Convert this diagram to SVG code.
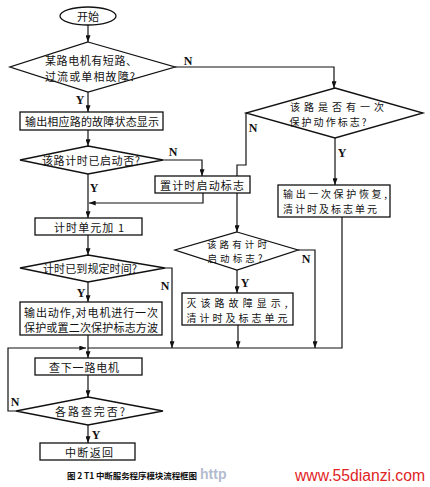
<svg xmlns="http://www.w3.org/2000/svg" width="430" height="487" viewBox="0 0 430 487">
<defs>
<marker id="ah" viewBox="0 0 8 6" refX="8" refY="3" markerWidth="7" markerHeight="5" orient="auto" markerUnits="userSpaceOnUse">
<path d="M0,0 L8,3 L0,6 Z" fill="#111"/>
</marker>
<style>
.s{fill:#fff;stroke:#111;stroke-width:1.3}
.c{fill:none;stroke:#111;stroke-width:1.2}
.a{fill:none;stroke:#111;stroke-width:1.2;marker-end:url(#ah)}
.t{font-family:"Noto Sans CJK SC","Noto Sans CJK JP",sans-serif;font-size:11px;fill:#111;text-anchor:middle;dominant-baseline:central}
.m{font-size:10px}
.l{font-family:"Liberation Serif",serif;font-size:12px;font-weight:bold;fill:#111;text-anchor:middle;dominant-baseline:central}
</style>
</defs>
<rect width="430" height="487" fill="#fff"/>

<g id="connectors">
<path class="a" d="M88,25 V42"/>
<path class="a" d="M88,92 V112"/>
<path class="a" d="M88,130 V146"/>
<path class="a" d="M175,67 H334 V88"/>
<path class="a" d="M163,160 H202 V176"/>
<path class="a" d="M203,193 V203 H89"/>
<path class="a" d="M88,174 V218"/>
<path class="a" d="M88,235 V255"/>
<path class="a" d="M88,282 V302"/>
<path class="a" d="M165,268 H172 V348"/>
<path class="a" d="M88,335 V358"/>
<path class="a" d="M16,411 H8 V348 H86"/>
<path class="c" d="M342,217 V348 H88"/>
<path class="a" d="M335,138 V185"/>
<path class="a" d="M246,113 V165 H237 V232"/>
<path class="a" d="M237,270 V293"/>
<path class="a" d="M238,325 V348"/>
<path class="a" d="M298,250 H315 V348"/>
<path class="a" d="M88,375 V397"/>
<path class="a" d="M88,425 V443"/>
</g>

<g id="start">
<ellipse class="s" cx="88" cy="16" rx="28" ry="9"/>
<text class="t" x="88" y="16">开始</text>
</g>

<g id="d1">
<polygon class="s" points="88,42 175,67 88,92 10,67"/>
<text class="t" x="91" y="59.5" textLength="92" lengthAdjust="spacing">某路电机有短路、</text>
<text class="t" x="90" y="76" textLength="90" lengthAdjust="spacing">过流或单相故障?</text>
</g>

<g id="b1">
<rect class="s" x="20" y="112" width="143" height="18"/>
<text class="t" x="92" y="121" textLength="134" lengthAdjust="spacing">输出相应路的故障状态显示</text>
</g>

<g id="d3">
<polygon class="s" points="88,146 163,160 88,174 20,160"/>
<text class="t" x="91" y="160" textLength="98" lengthAdjust="spacing">该路计时已启动否?</text>
</g>

<g id="b2">
<rect class="s" x="155" y="176" width="95" height="17"/>
<text class="t" x="202" y="184.5" textLength="84" lengthAdjust="spacing">置计时启动标志</text>
</g>

<g id="b3">
<rect class="s" x="35" y="218" width="107" height="17"/>
<text class="t" x="89" y="226.5" textLength="70" lengthAdjust="spacing">计时单元加 1</text>
</g>

<g id="d4">
<polygon class="s" points="88,255 165,268 88,282 20,268"/>
<text class="t" x="90" y="268" textLength="94" lengthAdjust="spacing">计时已到规定时间?</text>
</g>

<g id="b4">
<rect class="s" x="20" y="302" width="142" height="33"/>
<text class="t" x="91" y="311.5" textLength="134" lengthAdjust="spacing">输出动作,对电机进行一次</text>
<text class="t" x="91" y="326.5" textLength="134" lengthAdjust="spacing">保护或置二次保护标志方波</text>
</g>

<g id="d2">
<polygon class="s" points="335,88 423,113 335,138 246,113"/>
<text class="t m" x="337" y="106" textLength="94" lengthAdjust="spacing">该路是否有一次</text>
<text class="t m" x="328" y="121" textLength="77" lengthAdjust="spacing">保护动作标志?</text>
</g>

<g id="b5">
<rect class="s" x="278" y="185" width="112" height="32"/>
<text class="t m" x="335" y="193.5" textLength="104" lengthAdjust="spacing">输出一次保护恢复,</text>
<text class="t m" x="330" y="208.5" textLength="94" lengthAdjust="spacing">清计时及标志单元</text>
</g>

<g id="d5">
<polygon class="s" points="237,232 298,250 237,270 175,250"/>
<text class="t" style="font-size:9.5px" x="237" y="244" textLength="60" lengthAdjust="spacing">该路有计时</text>
<text class="t" style="font-size:9.5px" x="235" y="258" textLength="55" lengthAdjust="spacing">启动标志?</text>
</g>

<g id="b6">
<rect class="s" x="182" y="293" width="111" height="32"/>
<text class="t m" x="237" y="302" textLength="101" lengthAdjust="spacing">灭该路故障显示,</text>
<text class="t m" x="237" y="317" textLength="101" lengthAdjust="spacing">清计时及标志单元</text>
</g>

<g id="b7">
<rect class="s" x="35" y="358" width="107" height="17"/>
<text class="t" x="84" y="366.5" textLength="70" lengthAdjust="spacing">查下一路电机</text>
</g>

<g id="d6">
<polygon class="s" points="88,397 163,411 88,425 16,411"/>
<text class="t" x="90" y="411" textLength="70" lengthAdjust="spacing">各路查完否?</text>
</g>

<g id="b8">
<rect class="s" x="40" y="443" width="95" height="17"/>
<text class="t" x="89" y="451.5" textLength="48" lengthAdjust="spacing">中断返回</text>
</g>

<g id="labels">
<text class="l" x="188" y="61">N</text>
<text class="l" x="80" y="100">Y</text>
<text class="l" x="173" y="152">N</text>
<text class="l" x="94" y="188">Y</text>
<text class="l" x="165" y="286">N</text>
<text class="l" x="81" y="293">Y</text>
<text class="l" x="253" y="128">N</text>
<text class="l" x="342" y="153">Y</text>
<text class="l" x="306" y="259">N</text>
<text class="l" x="245" y="283">Y</text>
<text class="l" x="15" y="402">N</text>
<text class="l" x="96" y="435">Y</text>
</g>

<g id="caption">
<text class="t" x="132" y="475" textLength="130" lengthAdjust="spacing" style="font-size:8.5px;font-weight:bold">图 2 T1 中断服务程序模块流程框图</text>
<text x="200" y="479" style="font-family:'Liberation Sans',sans-serif;font-size:14px;font-weight:bold;fill:#7f8fb0;opacity:0.6">http</text>
<text x="295" y="481" textLength="130" lengthAdjust="spacingAndGlyphs" style="font-family:'Liberation Sans',sans-serif;font-size:16px;fill:#e02424">www.55dianzi.com</text>
</g>
</svg>
